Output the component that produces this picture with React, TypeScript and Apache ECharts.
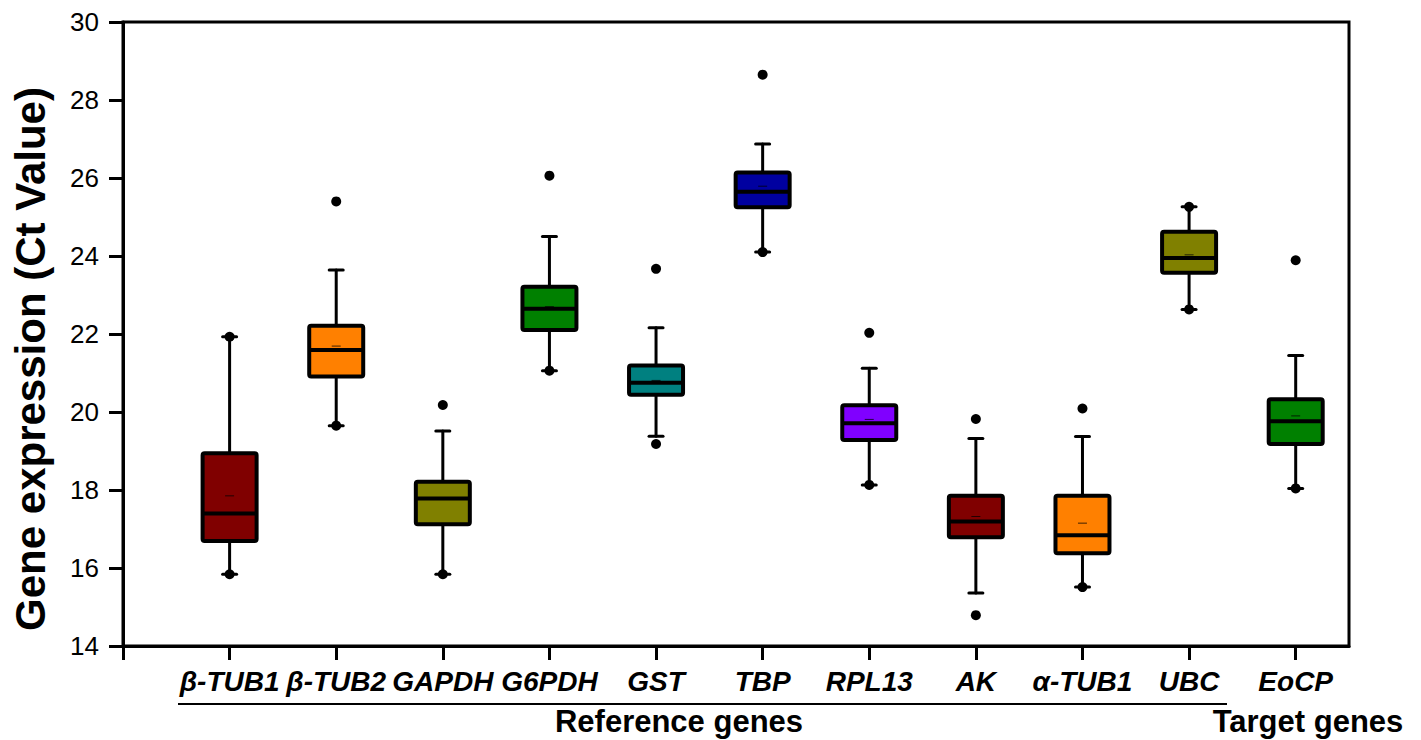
import React, { useEffect, useRef } from "react";
import * as echarts from "echarts";

const genes = ["β-TUB1", "β-TUB2", "GAPDH", "G6PDH", "GST", "TBP", "RPL13", "AK", "α-TUB1", "UBC", "EoCP"];
const colors = ["#800000", "#FF8000", "#808000", "#008000", "#008080", "#0000A0", "#8000FF", "#800000", "#FF8000", "#808000", "#008000"];
const whiskerLow = [15.84, 19.65, 15.84, 21.06, 19.38, 24.1, 18.13, 15.36, 15.51, 22.63, 18.04];
const q1 = [16.69, 20.91, 17.12, 22.1, 20.44, 25.25, 19.28, 16.79, 16.38, 23.57, 19.18];
const median = [17.4, 21.59, 17.78, 22.65, 20.75, 25.65, 19.71, 17.19, 16.84, 23.95, 19.76];
const q3 = [18.94, 22.21, 18.21, 23.21, 21.19, 26.14, 20.17, 17.85, 17.85, 24.62, 20.33];
const whiskerHigh = [21.93, 23.64, 19.51, 24.5, 22.16, 26.87, 21.12, 19.32, 19.37, 25.26, 21.45];
const mean = [17.85, 21.69, 17.77, 22.7, 20.81, 25.79, 19.81, 17.32, 17.15, 24.03, 19.9];
const minPt = [15.84, 19.65, 15.84, 21.06, 19.18, 24.1, 18.13, 14.79, 15.51, 22.63, 18.04];
const maxPt = [21.93, 25.4, 20.18, 26.06, 23.67, 28.65, 22.03, 19.82, 20.09, 25.26, 23.89];
const yTicks = { min: 14, max: 30, interval: 2 };

const FONT = "'Liberation Sans', Arial, sans-serif";

export default function App() {
  const ref = useRef<HTMLDivElement>(null);
  useEffect(() => {
    if (!ref.current) return;
    const chart = echarts.init(ref.current, null, { renderer: "svg" });
    const positions = genes.map((_, i) => i + 1);
    const boxData = genes.map((_, i) => [i + 1, whiskerLow[i], q1[i], median[i], q3[i], whiskerHigh[i], mean[i]]);
    const pointData: number[][] = [];
    genes.forEach((_, i) => {
      pointData.push([i + 1, minPt[i]]);
      pointData.push([i + 1, maxPt[i]]);
    });
    const halfW = 27;
    const capHalf = 7;
    const option: any = {
      animation: false,
      grid: {
        left: 123,
        right: 72,
        top: 22,
        bottom: 94,
        show: true,
        borderColor: "#000",
        borderWidth: 3,
        backgroundColor: "transparent",
      },
      xAxis: {
        type: "value",
        min: 0,
        max: 11.5,
        interval: 1,
        splitLine: { show: false },
        axisLine: { show: true, lineStyle: { color: "#000", width: 3 } },
        axisTick: {
          show: true,
          inside: false,
          length: 14,
          lineStyle: { color: "#000", width: 3 },
          customValues: [0, ...positions],
        },
        axisLabel: {
          customValues: positions,
          formatter: (v: number) => genes[Math.round(v) - 1] || "",
          color: "#000",
          fontFamily: FONT,
          fontSize: 28,
          fontWeight: "bold",
          fontStyle: "italic",
          margin: 21,
        },
      },
      yAxis: {
        type: "value",
        min: yTicks.min,
        max: yTicks.max,
        interval: yTicks.interval,
        splitLine: { show: false },
        axisLine: { show: true, lineStyle: { color: "#000", width: 3 } },
        axisTick: { show: true, inside: false, length: 14, lineStyle: { color: "#000", width: 3 } },
        axisLabel: { color: "#000", fontFamily: FONT, fontSize: 26, margin: 24 },
      },
      graphic: [
        {
          type: "text",
          x: 30,
          y: 359,
          rotation: Math.PI / 2,
          style: {
            text: "Gene expression (Ct Value)",
            fontFamily: FONT,
            fontSize: 42,
            fontWeight: "bold",
            fill: "#000",
            align: "center",
            verticalAlign: "middle",
          },
        },
        {
          type: "line",
          shape: { x1: 178, y1: 704, x2: 1227, y2: 704 },
          style: { stroke: "#000", lineWidth: 2 },
        },
        {
          type: "text",
          x: 679,
          y: 706,
          style: {
            text: "Reference genes",
            fontFamily: FONT,
            fontSize: 31,
            fontWeight: "bold",
            fill: "#000",
            align: "center",
            verticalAlign: "top",
          },
        },
        {
          type: "text",
          x: 1308,
          y: 706,
          style: {
            text: "Target genes",
            fontFamily: FONT,
            fontSize: 31,
            fontWeight: "bold",
            fill: "#000",
            align: "center",
            verticalAlign: "top",
          },
        },
      ],
      series: [
        {
          type: "custom",
          data: boxData,
          encode: { x: 0, y: [1, 2, 3, 4, 5, 6] },
          renderItem: (params: any, api: any) => {
            const x = api.value(0);
            const pLo = api.coord([x, api.value(1)]);
            const pQ1 = api.coord([x, api.value(2)]);
            const pMed = api.coord([x, api.value(3)]);
            const pQ3 = api.coord([x, api.value(4)]);
            const pHi = api.coord([x, api.value(5)]);
            const pMean = api.coord([x, api.value(6)]);
            const cx = pLo[0];
            const color = colors[params.dataIndex];
            const lineStyle = { stroke: "#000", lineWidth: 3, lineCap: "round" };
            return {
              type: "group",
              children: [
                { type: "line", shape: { x1: cx, y1: pLo[1], x2: cx, y2: pQ1[1] }, style: lineStyle },
                { type: "line", shape: { x1: cx, y1: pHi[1], x2: cx, y2: pQ3[1] }, style: lineStyle },
                { type: "line", shape: { x1: cx - capHalf, y1: pLo[1], x2: cx + capHalf, y2: pLo[1] }, style: lineStyle },
                { type: "line", shape: { x1: cx - capHalf, y1: pHi[1], x2: cx + capHalf, y2: pHi[1] }, style: lineStyle },
                {
                  type: "rect",
                  shape: { x: cx - halfW, y: pQ3[1], width: halfW * 2, height: pQ1[1] - pQ3[1], r: 2 },
                  style: { fill: color, stroke: "#000", lineWidth: 4, lineJoin: "round" },
                },
                {
                  type: "line",
                  shape: { x1: cx - halfW, y1: pMed[1], x2: cx + halfW, y2: pMed[1] },
                  style: { stroke: "#000", lineWidth: 4 },
                },
                {
                  type: "line",
                  shape: { x1: cx - 4.5, y1: pMean[1], x2: cx + 4.5, y2: pMean[1] },
                  style: { stroke: "rgba(0,0,0,0.75)", lineWidth: 1 },
                },
              ],
            };
          },
          z: 2,
        },
        {
          type: "scatter",
          data: pointData,
          symbol: "circle",
          symbolSize: 10,
          itemStyle: { color: "#000", opacity: 1 },
          z: 3,
        },
      ],
    };
    chart.setOption(option);
    return () => chart.dispose();
  }, []);
  return (
    <div
      ref={ref}
      style={{ position: "fixed", left: 0, top: 0, width: 1421, height: 740, background: "#fff" }}
    />
  );
}
